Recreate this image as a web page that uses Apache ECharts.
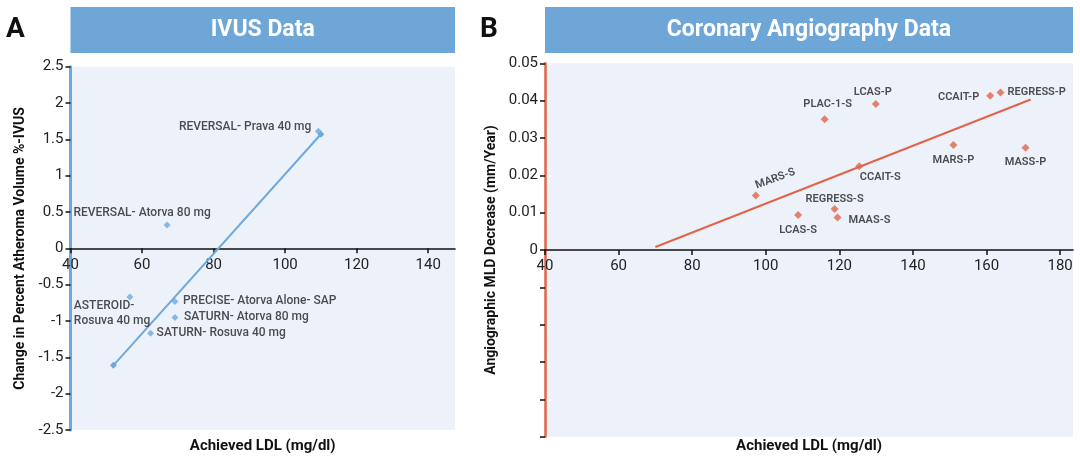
<!DOCTYPE html>
<html><head><meta charset="utf-8">
<script src="https://cdn.jsdelivr.net/npm/echarts@6/dist/echarts.min.js"></script>
<style>html,body{margin:0;padding:0;background:#fff}#c{width:1080px;height:467px}</style>
</head><body><div id="c"></div>
<script>
// ---- Panel A: IVUS data ----
const ivusTicksX = [40, 60, 80, 100, 120, 140];
const ivusNames = ['REVERSAL- Prava 40 mg', 'REVERSAL- Atorva 80 mg', 'ASTEROID-\nRosuva 40 mg', 'PRECISE- Atorva Alone- SAP', 'SATURN- Atorva 80 mg', 'SATURN- Rosuva 40 mg'];
const ivusLDL = [109.3, 67, 56.6, 69.2, 69.2, 62.4];
const ivusChange = [1.61, 0.32, -0.67, -0.73, -0.95, -1.17];
const ivusTrendLDL = [52, 110];
const ivusTrendChange = [-1.61, 1.57];

// ---- Panel B: Coronary angiography data ----
const angioTicksX = [40, 60, 80, 100, 120, 140, 160, 180];
const angioNames = ['PLAC-1-P', 'LCAS-P', 'PLAC-1-S', 'CCAIT-P', 'REGRESS-P', 'MARS-P', 'MASS-P', 'CCAIT-S', 'MARS-S', 'LCAS-S', 'REGRESS-S', 'MAAS-S'];
const angioLDL = [162.1, 129.9, 116, 161, 163.8, 151, 170.6, 125.4, 97.3, 108.8, 118.7, 119.5];
const angioMLD = [0.0503, 0.0391, 0.035, 0.0413, 0.0422, 0.0281, 0.0274, 0.0224, 0.0146, 0.0094, 0.011, 0.0087];
const angioTrendLDL = [70, 172];
const angioTrendMLD = [0.0008, 0.0403];

// label placement (style only)
const ivusLabelPlace = {
  'REVERSAL- Prava 40 mg': {align: 'right', offset: [-7, -4]},
  'REVERSAL- Atorva 80 mg': {align: 'center', offset: [-25, -12]},
  'ASTEROID-\nRosuva 40 mg': {align: 'left', offset: [-56, 16]},
  'PRECISE- Atorva Alone- SAP': {align: 'left', offset: [8, 0]},
  'SATURN- Atorva 80 mg': {align: 'left', offset: [9, 0]},
  'SATURN- Rosuva 40 mg': {align: 'left', offset: [6, 0]}
};
const angioLabelPlace = {
  'PLAC-1-P': {align: 'right', offset: [-7, 0]},
  'LCAS-P': {align: 'center', offset: [-3, -12]},
  'PLAC-1-S': {align: 'center', offset: [3, -15]},
  'CCAIT-P': {align: 'right', offset: [-11, 1]},
  'REGRESS-P': {align: 'left', offset: [7, 0]},
  'MARS-P': {align: 'center', offset: [0, 15]},
  'MASS-P': {align: 'center', offset: [0, 15]},
  'CCAIT-S': {align: 'center', offset: [21, 11]},
  'MARS-S': {align: 'center', offset: [24, -9], rotate: 20},
  'LCAS-S': {align: 'center', offset: [0, 15]},
  'REGRESS-S': {align: 'center', offset: [0, -10]},
  'MAAS-S': {align: 'left', offset: [11, 3]}
};

const FONT = 'Roboto, "Open Sans", sans-serif';
const BLUE = '#6fa8dc';
const RED = '#e0644a';
const BOX = '#6ea6d8';
const BG = '#edf2fa';

// grid geometry (layout)
const gA = {left: 70.5, top: 66.7, width: 384.5, height: 363.3};
const gB = {left: 545, top: 63.3, width: 528, height: 373.4};
const yA = [-2.5, 2.5], yB = [-0.05, 0.05];
const zeroOffset = (g, r) => -(g.height * (0 - r[0]) / (r[1] - r[0]));

const ivusData = ivusNames.map((n, i) => {
  const p = ivusLabelPlace[n];
  return {name: n, value: [ivusLDL[i], ivusChange[i]],
    label: {show: true, position: 'inside', formatter: n, align: p.align, verticalAlign: 'middle', offset: p.offset,
      color: '#222', fontSize: 12, fontWeight: 500, fontFamily: FONT, lineHeight: 15}};
});
const angioData = angioNames.map((n, i) => {
  const p = angioLabelPlace[n];
  return {name: n, value: [angioLDL[i], angioMLD[i]],
    label: {show: true, position: 'inside', formatter: n, align: p.align, verticalAlign: 'middle', offset: p.offset,
      rotate: p.rotate || 0, color: '#222', fontSize: 11, fontWeight: 600, fontFamily: FONT}};
});

const chart = echarts.init(document.getElementById('c'), null, {renderer: 'canvas'});
const axisLabelStyle = {color: '#222', fontSize: 15, fontFamily: FONT};

chart.setOption({
  animation: false,
  textStyle: {fontFamily: FONT},
  grid: [
    Object.assign({show: true, backgroundColor: BG, borderWidth: 0, containLabel: false}, gA),
    Object.assign({show: true, backgroundColor: BG, borderWidth: 0, containLabel: false}, gB)
  ],
  xAxis: [
    {gridIndex: 0, type: 'value', min: 40, max: 147.5, position: 'bottom', offset: zeroOffset(gA, yA),
      axisLine: {onZero: false, lineStyle: {color: '#111', width: 1.6}},
      axisTick: {show: true, customValues: ivusTicksX, length: 5, lineStyle: {color: '#111', width: 1.5}},
      axisLabel: Object.assign({customValues: ivusTicksX, margin: 9}, axisLabelStyle),
      splitLine: {show: false}},
    {gridIndex: 1, type: 'value', min: 40, max: 183.5, position: 'bottom', offset: zeroOffset(gB, yB),
      axisLine: {onZero: false, lineStyle: {color: '#111', width: 1.6}},
      axisTick: {show: true, customValues: angioTicksX, length: 5, lineStyle: {color: '#111', width: 1.5}},
      axisLabel: Object.assign({customValues: angioTicksX, margin: 9}, axisLabelStyle),
      splitLine: {show: false}}
  ],
  yAxis: [
    {gridIndex: 0, type: 'value', min: yA[0], max: yA[1], interval: 0.5,
      name: 'Change in Percent Atheroma Volume %-IVUS', nameLocation: 'middle', nameRotate: 90, nameGap: 43,
      nameTextStyle: {fontSize: 14, fontWeight: 'bold', color: '#111', fontFamily: FONT},
      axisLine: {show: true, onZero: false, lineStyle: {color: BLUE, width: 3}},
      axisTick: {show: true, length: 5, lineStyle: {color: '#111', width: 1.5}},
      axisLabel: Object.assign({margin: 7, formatter: v => String(Math.round(v * 10) / 10)}, axisLabelStyle),
      splitLine: {show: false}},
    {gridIndex: 1, type: 'value', min: yB[0], max: yB[1], interval: 0.01,
      name: 'Angiographic MLD Decrease (mm/Year)', nameLocation: 'middle', nameRotate: 90, nameGap: 47,
      nameTextStyle: {fontSize: 14, fontWeight: 'bold', color: '#111', fontFamily: FONT},
      axisLine: {show: true, onZero: false, lineStyle: {color: RED, width: 2.5}},
      axisTick: {show: true, length: 5, lineStyle: {color: '#111', width: 1.5}},
      axisLabel: Object.assign({margin: 7, formatter: v => Math.abs(v) < 1e-9 ? '0' : (v > 0 ? v.toFixed(2) : '')}, axisLabelStyle),
      splitLine: {show: false}}
  ],
  series: [
    {type: 'line', xAxisIndex: 0, yAxisIndex: 0, data: ivusTrendLDL.map((x, i) => [x, ivusTrendChange[i]]),
      symbol: 'diamond', symbolSize: 7, showSymbol: true, itemStyle: {color: BLUE}, lineStyle: {color: BLUE, width: 2}, z: 3},
    {type: 'scatter', xAxisIndex: 0, yAxisIndex: 0, data: ivusData, symbol: 'diamond', symbolSize: 7,
      itemStyle: {color: BLUE}, z: 4},
    {type: 'line', xAxisIndex: 1, yAxisIndex: 1, data: angioTrendLDL.map((x, i) => [x, angioTrendMLD[i]]),
      symbol: 'none', lineStyle: {color: RED, width: 2}, z: 3},
    {type: 'scatter', xAxisIndex: 1, yAxisIndex: 1, data: angioData, symbol: 'diamond', symbolSize: 8,
      itemStyle: {color: RED}, z: 4}
  ],
  graphic: [
    {type: 'rect', shape: {x: 70.5, y: 7, width: 384.5, height: 46}, style: {fill: BOX}},
    {type: 'text', x: 262.7, y: 30, style: {text: 'IVUS Data', fill: '#fff', font: 'bold 23px ' + FONT, align: 'center', verticalAlign: 'middle'}},
    {type: 'rect', shape: {x: 545, y: 7, width: 528, height: 46}, style: {fill: BOX}},
    {type: 'text', x: 809, y: 30, style: {text: 'Coronary Angiography Data', fill: '#fff', font: 'bold 23px ' + FONT, align: 'center', verticalAlign: 'middle'}},
    {type: 'text', x: 6, y: 30, style: {text: 'A', fill: '#111', font: 'bold 28px ' + FONT, verticalAlign: 'middle'}},
    {type: 'text', x: 480, y: 30, style: {text: 'B', fill: '#111', font: 'bold 28px ' + FONT, verticalAlign: 'middle'}},
    {type: 'text', x: 262.7, y: 446, style: {text: 'Achieved LDL (mg/dl)', fill: '#111', font: 'bold 15px ' + FONT, align: 'center', verticalAlign: 'middle'}},
    {type: 'text', x: 809, y: 446, style: {text: 'Achieved LDL (mg/dl)', fill: '#111', font: 'bold 15px ' + FONT, align: 'center', verticalAlign: 'middle'}}
  ]
});
</script></body></html>
